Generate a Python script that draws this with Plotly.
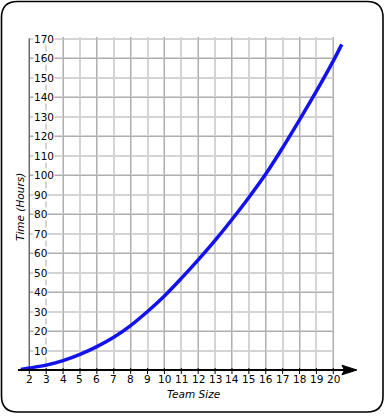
import plotly.graph_objects as go

# ---- data ----
team_size = [1.5, 2, 3, 4, 5, 6, 7, 8, 9, 10, 11, 12, 13, 14, 15, 16, 17, 18, 19, 20, 20.5]
hours = [0.3, 1.0, 2.5, 4.8, 8.0, 12.0, 16.8, 22.8, 30.0, 38.0, 47.0, 56.5, 66.5, 77.2,
         88.5, 100.5, 114.0, 128.3, 143.0, 158.5, 167.0]
x_ticks = list(range(2, 21))
y_ticks = list(range(0, 171, 10))
x_title = "Team Size"
y_title = "Time (Hours)"

# ---- geometry (pixels) ----
W, H = 389, 416
gx0, gx1 = 29.3, 333.3      # pixel of x=2 and x=20
gy0, gy1 = 370.0, 38.5      # pixel of y=0 and y=170
xmin, xmax = x_ticks[0], x_ticks[-1]
ymin, ymax = y_ticks[0], y_ticks[-1]
sx = (gx1 - gx0) / (xmax - xmin)
sy = (gy0 - gy1) / (ymax - ymin)

def px_x(v):
    return gx0 + (v - xmin) * sx

def px_y(v):
    return gy0 - (v - ymin) * sy

def PX(p):
    return p / W

def PY(p):
    return 1 - p / H

# grid subplot ranges (tiny padding so the edge grid lines are drawn)
gr_x = [xmin - 0.03, xmax + 0.06]
gr_y = [ymin - 0.3, ymax + 0.6]
# extended range for curve subplot
ex0, ex1 = 1.2, 21.8
ey0, ey1 = -3, 172

font = dict(family="DejaVu Sans", size=10.5, color="black")

fig = go.Figure()
fig.add_trace(go.Scatter(x=[xmin], y=[ymin], mode="markers", marker=dict(opacity=0),
                         hoverinfo="skip", showlegend=False, xaxis="x", yaxis="y"))
fig.add_trace(go.Scatter(x=[xmin], y=[ymin], mode="markers", marker=dict(opacity=0),
                         hoverinfo="skip", showlegend=False, xaxis="x3", yaxis="y3"))
fig.add_trace(go.Scatter(x=team_size, y=hours, mode="lines",
                         line=dict(color="#1212ee", width=3.5, shape="spline", smoothing=1.0),
                         hoverinfo="skip", showlegend=False, xaxis="x2", yaxis="y2"))

xdom = [PX(px_x(gr_x[0])), PX(px_x(gr_x[1]))]
ydom = [PY(px_y(gr_y[0])), PY(px_y(gr_y[1]))]
xdom2 = [PX(px_x(ex0)), PX(px_x(ex1))]
ydom2 = [PY(px_y(ey0)), PY(px_y(ey1))]

light = "#d4d4d4"
dark = "#afafaf"

fig.update_layout(
    width=W, height=H,
    margin=dict(l=0, r=0, t=0, b=0),
    paper_bgcolor="white", plot_bgcolor="rgba(0,0,0,0)",
    showlegend=False,
    xaxis=dict(domain=xdom, range=gr_x, tickmode="array", tickvals=x_ticks,
               showticklabels=False, showgrid=True, gridcolor=light,
               gridwidth=2, zeroline=False, showline=False, ticks="", anchor="y",
               fixedrange=True),
    yaxis=dict(domain=ydom, range=gr_y, tickmode="array", tickvals=y_ticks,
               showticklabels=False, showgrid=True, gridcolor=light, gridwidth=2,
               zeroline=False, showline=False, ticks="", anchor="x", fixedrange=True),
    xaxis3=dict(overlaying="x", range=gr_x, tickmode="array",
                tickvals=x_ticks[::2], showticklabels=False, showgrid=True,
                gridcolor=dark, gridwidth=1, zeroline=False, ticks="", anchor="y3"),
    yaxis3=dict(overlaying="y", range=gr_y, tickmode="array",
                tickvals=y_ticks[::2], showticklabels=False, showgrid=True,
                gridcolor=dark, gridwidth=1, zeroline=False, ticks="", anchor="x3"),
    xaxis2=dict(domain=xdom2, range=[ex0, ex1], visible=False, anchor="y2", fixedrange=True),
    yaxis2=dict(domain=ydom2, range=[ey0, ey1], visible=False, anchor="x2", fixedrange=True),
)

# y axis line at x=2
fig.add_shape(type="line", xref="x2", yref="y2", x0=xmin, x1=xmin, y0=ymin, y1=ymax,
              line=dict(color="#6a6a6a", width=1.5), layer="below")
# y tick marks and labels
for v in y_ticks[1:]:
    fig.add_shape(type="line", xref="paper", yref="y2",
                  x0=PX(px_x(xmin)), x1=PX(px_x(xmin) + 4), y0=v, y1=v,
                  line=dict(color="#505050", width=1), layer="below")
    fig.add_annotation(text=str(v), xref="paper", yref="y2", x=PX(px_x(xmin) + 3.5), y=v,
                       showarrow=False, font=font, xanchor="left", yanchor="middle",
                       bgcolor="white", borderpad=0)
# x tick marks and labels
for v in x_ticks:
    fig.add_shape(type="line", xref="x2", yref="paper", x0=v, x1=v,
                  y0=PY(px_y(0) - 2), y1=PY(px_y(0) + 4),
                  line=dict(color="black", width=1), layer="above")
    fig.add_annotation(text=str(v), xref="x2", yref="paper", x=v, y=PY(378.5),
                       showarrow=False, font=font, xanchor="center", yanchor="middle")

# x axis line with arrow head
line_start = 1.33
tip = 21.4
fig.add_shape(type="line", xref="x2", yref="y2", x0=line_start, x1=tip - 0.6, y0=0, y1=0,
              line=dict(color="black", width=2), layer="above")
tx, ty = px_x(tip), px_y(0)
hl, hw, notch = 15, 4.8, 2.5
path = (f"M{PX(tx)},{PY(ty)} L{PX(tx - hl)},{PY(ty - hw)} L{PX(tx - hl + notch)},{PY(ty)} "
        f"L{PX(tx - hl)},{PY(ty + hw)} Z")
fig.add_shape(type="path", xref="paper", yref="paper", path=path,
              fillcolor="black", line=dict(color="black", width=1), layer="above")

# rounded frame
L, T, R, B, r = 1.5, 1.5, 383.0, 412.0, 16
frame = (f"M{PX(L + r)},{PY(T)} L{PX(R - r)},{PY(T)} Q{PX(R)},{PY(T)} {PX(R)},{PY(T + r)} "
         f"L{PX(R)},{PY(B - r)} Q{PX(R)},{PY(B)} {PX(R - r)},{PY(B)} "
         f"L{PX(L + r)},{PY(B)} Q{PX(L)},{PY(B)} {PX(L)},{PY(B - r)} "
         f"L{PX(L)},{PY(T + r)} Q{PX(L)},{PY(T)} {PX(L + r)},{PY(T)} Z")
fig.add_shape(type="path", xref="paper", yref="paper", path=frame,
              line=dict(color="black", width=1.6), layer="above")

# axis titles
fig.add_annotation(text=f"<i>{x_title}</i>", xref="paper", yref="paper",
                   x=PX(193), y=PY(394), showarrow=False, font=font,
                   xanchor="center", yanchor="middle")
fig.add_annotation(text=f"<i>{y_title}</i>", xref="paper", yref="paper",
                   x=PX(20), y=PY(207), showarrow=False, font=font, textangle=-90,
                   xanchor="center", yanchor="middle")

fig.write_html("out.html", config={"displayModeBar": False})
